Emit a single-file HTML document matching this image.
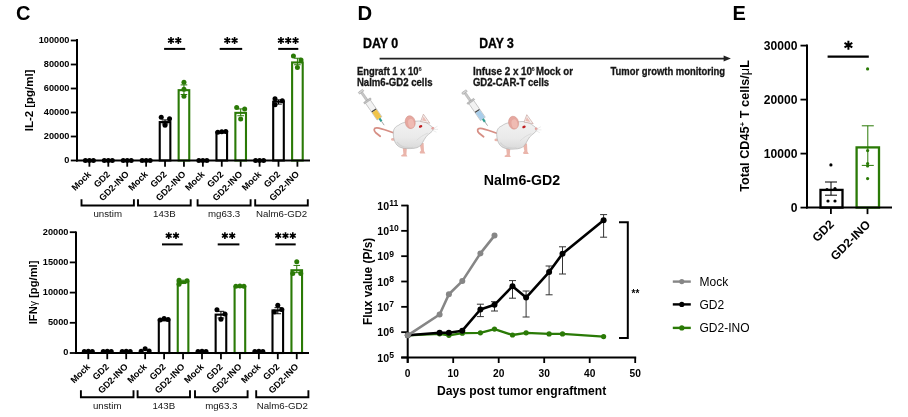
<!DOCTYPE html>
<html><head><meta charset="utf-8"><style>
html,body{margin:0;padding:0;background:#fff;}
body{width:908px;height:417px;overflow:hidden;position:relative;}
svg{position:absolute;left:0;top:0;font-family:"Liberation Sans", sans-serif;will-change:transform;filter:blur(0.35px);}
</style></head><body>
<svg width="908" height="417" viewBox="0 0 908 417">
<text x="16.00" y="20.20" font-size="20" font-weight="bold" text-anchor="start" fill="#000" >C</text>
<text x="357.40" y="19.90" font-size="20.3" font-weight="bold" text-anchor="start" fill="#000" >D</text>
<text x="732.60" y="19.90" font-size="20" font-weight="bold" text-anchor="start" fill="#000" >E</text>
<g>
<line x1="77.00" y1="39.00" x2="77.00" y2="161.50" stroke="#000" stroke-width="2" />
<line x1="70.80" y1="160.50" x2="77.00" y2="160.50" stroke="#000" stroke-width="1.8" />
<text x="69.40" y="162.90" font-size="9.2" font-weight="bold" text-anchor="end" fill="#000" >0</text>
<line x1="70.80" y1="136.50" x2="77.00" y2="136.50" stroke="#000" stroke-width="1.8" />
<text x="69.40" y="138.90" font-size="9.2" font-weight="bold" text-anchor="end" fill="#000" >20000</text>
<line x1="70.80" y1="112.50" x2="77.00" y2="112.50" stroke="#000" stroke-width="1.8" />
<text x="69.40" y="114.90" font-size="9.2" font-weight="bold" text-anchor="end" fill="#000" >40000</text>
<line x1="70.80" y1="88.50" x2="77.00" y2="88.50" stroke="#000" stroke-width="1.8" />
<text x="69.40" y="90.90" font-size="9.2" font-weight="bold" text-anchor="end" fill="#000" >60000</text>
<line x1="70.80" y1="64.50" x2="77.00" y2="64.50" stroke="#000" stroke-width="1.8" />
<text x="69.40" y="66.90" font-size="9.2" font-weight="bold" text-anchor="end" fill="#000" >80000</text>
<line x1="70.80" y1="40.50" x2="77.00" y2="40.50" stroke="#000" stroke-width="1.8" />
<text x="69.40" y="42.90" font-size="9.2" font-weight="bold" text-anchor="end" fill="#000" >100000</text>
<line x1="89.40" y1="160.50" x2="89.40" y2="166.70" stroke="#000" stroke-width="1.8" />
<text x="91.70" y="174.80" font-size="9.1" font-weight="bold" text-anchor="end" fill="#000" transform="rotate(-45 91.70 174.80)">Mock</text>
<line x1="108.31" y1="160.50" x2="108.31" y2="166.70" stroke="#000" stroke-width="1.8" />
<text x="110.61" y="174.80" font-size="9.1" font-weight="bold" text-anchor="end" fill="#000" transform="rotate(-45 110.61 174.80)">GD2</text>
<line x1="127.22" y1="160.50" x2="127.22" y2="166.70" stroke="#000" stroke-width="1.8" />
<text x="129.52" y="174.80" font-size="9.1" font-weight="bold" text-anchor="end" fill="#000" transform="rotate(-45 129.52 174.80)">GD2-INO</text>
<line x1="146.13" y1="160.50" x2="146.13" y2="166.70" stroke="#000" stroke-width="1.8" />
<text x="148.43" y="174.80" font-size="9.1" font-weight="bold" text-anchor="end" fill="#000" transform="rotate(-45 148.43 174.80)">Mock</text>
<line x1="165.04" y1="160.50" x2="165.04" y2="166.70" stroke="#000" stroke-width="1.8" />
<text x="167.34" y="174.80" font-size="9.1" font-weight="bold" text-anchor="end" fill="#000" transform="rotate(-45 167.34 174.80)">GD2</text>
<line x1="183.95" y1="160.50" x2="183.95" y2="166.70" stroke="#000" stroke-width="1.8" />
<text x="186.25" y="174.80" font-size="9.1" font-weight="bold" text-anchor="end" fill="#000" transform="rotate(-45 186.25 174.80)">GD2-INO</text>
<line x1="202.86" y1="160.50" x2="202.86" y2="166.70" stroke="#000" stroke-width="1.8" />
<text x="205.16" y="174.80" font-size="9.1" font-weight="bold" text-anchor="end" fill="#000" transform="rotate(-45 205.16 174.80)">Mock</text>
<line x1="221.77" y1="160.50" x2="221.77" y2="166.70" stroke="#000" stroke-width="1.8" />
<text x="224.07" y="174.80" font-size="9.1" font-weight="bold" text-anchor="end" fill="#000" transform="rotate(-45 224.07 174.80)">GD2</text>
<line x1="240.68" y1="160.50" x2="240.68" y2="166.70" stroke="#000" stroke-width="1.8" />
<text x="242.98" y="174.80" font-size="9.1" font-weight="bold" text-anchor="end" fill="#000" transform="rotate(-45 242.98 174.80)">GD2-INO</text>
<line x1="259.59" y1="160.50" x2="259.59" y2="166.70" stroke="#000" stroke-width="1.8" />
<text x="261.89" y="174.80" font-size="9.1" font-weight="bold" text-anchor="end" fill="#000" transform="rotate(-45 261.89 174.80)">Mock</text>
<line x1="278.50" y1="160.50" x2="278.50" y2="166.70" stroke="#000" stroke-width="1.8" />
<text x="280.80" y="174.80" font-size="9.1" font-weight="bold" text-anchor="end" fill="#000" transform="rotate(-45 280.80 174.80)">GD2</text>
<line x1="297.41" y1="160.50" x2="297.41" y2="166.70" stroke="#000" stroke-width="1.8" />
<text x="299.71" y="174.80" font-size="9.1" font-weight="bold" text-anchor="end" fill="#000" transform="rotate(-45 299.71 174.80)">GD2-INO</text>
<path d="M81.50 199.3 V205.5 H133.90 V199.3" fill="none" stroke="#000" stroke-width="1.9"/>
<text x="107.70" y="217.00" font-size="9.7" font-weight="normal" text-anchor="middle" fill="#151515" >unstim</text>
<path d="M138.00 199.3 V205.5 H190.70 V199.3" fill="none" stroke="#000" stroke-width="1.9"/>
<text x="164.35" y="217.00" font-size="9.7" font-weight="normal" text-anchor="middle" fill="#151515" >143B</text>
<path d="M197.60 199.3 V205.5 H250.60 V199.3" fill="none" stroke="#000" stroke-width="1.9"/>
<text x="224.10" y="217.00" font-size="9.7" font-weight="normal" text-anchor="middle" fill="#151515" >mg63.3</text>
<path d="M255.20 199.3 V205.5 H307.80 V199.3" fill="none" stroke="#000" stroke-width="1.9"/>
<text x="281.50" y="217.00" font-size="9.7" font-weight="normal" text-anchor="middle" fill="#151515" >Nalm6-GD2</text>
<circle cx="85.40" cy="160.50" r="2.5" fill="#000"/>
<circle cx="89.40" cy="160.50" r="2.5" fill="#000"/>
<circle cx="93.40" cy="160.50" r="2.5" fill="#000"/>
<rect x="103.01" y="160.50" width="10.6" height="0.00" fill="#fff" stroke="#000" stroke-width="2.1"/>
<circle cx="104.31" cy="160.50" r="2.5" fill="#000"/>
<circle cx="108.31" cy="160.50" r="2.5" fill="#000"/>
<circle cx="112.31" cy="160.50" r="2.5" fill="#000"/>
<rect x="121.92" y="160.50" width="10.6" height="0.00" fill="#fff" stroke="#000" stroke-width="2.1"/>
<circle cx="123.22" cy="160.50" r="2.5" fill="#000"/>
<circle cx="127.22" cy="160.50" r="2.5" fill="#000"/>
<circle cx="131.22" cy="160.50" r="2.5" fill="#000"/>
<circle cx="142.13" cy="160.50" r="2.5" fill="#000"/>
<circle cx="146.13" cy="160.50" r="2.5" fill="#000"/>
<circle cx="150.13" cy="160.50" r="2.5" fill="#000"/>
<rect x="159.74" y="122.10" width="10.6" height="38.40" fill="#fff" stroke="#000" stroke-width="2.1"/>
<path d="M165.04 123.90 V119.94 M161.74 123.90 h6.6 M161.74 119.94 h6.6" stroke="#000" stroke-width="1" fill="none"/>
<circle cx="161.24" cy="117.30" r="2.5" fill="#000"/>
<circle cx="169.54" cy="118.86" r="2.5" fill="#000"/>
<circle cx="165.04" cy="125.22" r="2.5" fill="#000"/>
<rect x="178.65" y="90.18" width="10.6" height="70.32" fill="#fff" stroke="#2a7a06" stroke-width="2.1"/>
<path d="M183.95 94.50 V84.90 M180.65 94.50 h6.6 M180.65 84.90 h6.6" stroke="#2a7a06" stroke-width="1" fill="none"/>
<circle cx="183.95" cy="82.14" r="2.5" fill="#2a7a06"/>
<circle cx="183.95" cy="89.34" r="2.5" fill="#2a7a06"/>
<circle cx="183.95" cy="96.18" r="2.5" fill="#2a7a06"/>
<circle cx="198.86" cy="160.50" r="2.5" fill="#000"/>
<circle cx="202.86" cy="160.50" r="2.5" fill="#000"/>
<circle cx="206.86" cy="160.50" r="2.5" fill="#000"/>
<rect x="216.47" y="132.30" width="10.6" height="28.20" fill="#fff" stroke="#000" stroke-width="2.1"/>
<circle cx="217.77" cy="132.18" r="2.5" fill="#000"/>
<circle cx="221.77" cy="131.70" r="2.5" fill="#000"/>
<circle cx="225.77" cy="131.46" r="2.5" fill="#000"/>
<rect x="235.38" y="112.86" width="10.6" height="47.64" fill="#fff" stroke="#2a7a06" stroke-width="2.1"/>
<path d="M240.68 115.74 V108.90 M237.38 115.74 h6.6 M237.38 108.90 h6.6" stroke="#2a7a06" stroke-width="1" fill="none"/>
<circle cx="236.68" cy="107.46" r="2.5" fill="#2a7a06"/>
<circle cx="244.68" cy="108.90" r="2.5" fill="#2a7a06"/>
<circle cx="240.68" cy="118.98" r="2.5" fill="#2a7a06"/>
<circle cx="255.59" cy="160.50" r="2.5" fill="#000"/>
<circle cx="259.59" cy="160.50" r="2.5" fill="#000"/>
<circle cx="263.59" cy="160.50" r="2.5" fill="#000"/>
<rect x="273.20" y="101.70" width="10.6" height="58.80" fill="#fff" stroke="#000" stroke-width="2.1"/>
<path d="M278.50 104.10 V99.90 M275.20 104.10 h6.6 M275.20 99.90 h6.6" stroke="#000" stroke-width="1" fill="none"/>
<circle cx="275.00" cy="98.70" r="2.5" fill="#000"/>
<circle cx="282.30" cy="100.86" r="2.5" fill="#000"/>
<circle cx="275.00" cy="104.70" r="2.5" fill="#000"/>
<rect x="292.11" y="62.46" width="10.6" height="98.04" fill="#fff" stroke="#2a7a06" stroke-width="2.1"/>
<path d="M297.41 64.74 V58.26 M294.11 64.74 h6.6 M294.11 58.26 h6.6" stroke="#2a7a06" stroke-width="1" fill="none"/>
<circle cx="293.41" cy="56.10" r="2.5" fill="#2a7a06"/>
<circle cx="301.01" cy="60.06" r="2.5" fill="#2a7a06"/>
<circle cx="297.41" cy="67.62" r="2.5" fill="#2a7a06"/>
<line x1="76.00" y1="160.50" x2="310.00" y2="160.50" stroke="#000" stroke-width="2" />
<line x1="164.10" y1="48.90" x2="185.20" y2="48.90" stroke="#000" stroke-width="2" />
<path d="M171.00 37.10 L171.00 43.90 M168.06 38.80 L173.94 42.20 M173.94 38.80 L168.06 42.20 " stroke="#000" stroke-width="1.6" fill="none"/>
<path d="M178.30 37.10 L178.30 43.90 M175.36 38.80 L181.24 42.20 M181.24 38.80 L175.36 42.20 " stroke="#000" stroke-width="1.6" fill="none"/>
<line x1="219.70" y1="48.90" x2="242.20" y2="48.90" stroke="#000" stroke-width="2" />
<path d="M227.30 37.10 L227.30 43.90 M224.36 38.80 L230.24 42.20 M230.24 38.80 L224.36 42.20 " stroke="#000" stroke-width="1.6" fill="none"/>
<path d="M234.60 37.10 L234.60 43.90 M231.66 38.80 L237.54 42.20 M237.54 38.80 L231.66 42.20 " stroke="#000" stroke-width="1.6" fill="none"/>
<line x1="278.20" y1="48.90" x2="298.30" y2="48.90" stroke="#000" stroke-width="2" />
<path d="M280.95 37.10 L280.95 43.90 M278.01 38.80 L283.89 42.20 M283.89 38.80 L278.01 42.20 " stroke="#000" stroke-width="1.6" fill="none"/>
<path d="M288.25 37.10 L288.25 43.90 M285.31 38.80 L291.19 42.20 M291.19 38.80 L285.31 42.20 " stroke="#000" stroke-width="1.6" fill="none"/>
<path d="M295.55 37.10 L295.55 43.90 M292.61 38.80 L298.49 42.20 M298.49 38.80 L292.61 42.20 " stroke="#000" stroke-width="1.6" fill="none"/>
<text x="32.7" y="100.4" font-size="11.45" font-weight="bold" text-anchor="middle" transform="rotate(-90 32.7 100.4)">IL-2 [pg/ml]</text>
<line x1="76.00" y1="231.60" x2="76.00" y2="354.00" stroke="#000" stroke-width="2" />
<line x1="69.80" y1="353.00" x2="76.00" y2="353.00" stroke="#000" stroke-width="1.8" />
<text x="68.40" y="355.40" font-size="9.2" font-weight="bold" text-anchor="end" fill="#000" >0</text>
<line x1="69.80" y1="322.80" x2="76.00" y2="322.80" stroke="#000" stroke-width="1.8" />
<text x="68.40" y="325.20" font-size="9.2" font-weight="bold" text-anchor="end" fill="#000" >5000</text>
<line x1="69.80" y1="292.60" x2="76.00" y2="292.60" stroke="#000" stroke-width="1.8" />
<text x="68.40" y="295.00" font-size="9.2" font-weight="bold" text-anchor="end" fill="#000" >10000</text>
<line x1="69.80" y1="262.40" x2="76.00" y2="262.40" stroke="#000" stroke-width="1.8" />
<text x="68.40" y="264.80" font-size="9.2" font-weight="bold" text-anchor="end" fill="#000" >15000</text>
<line x1="69.80" y1="232.20" x2="76.00" y2="232.20" stroke="#000" stroke-width="1.8" />
<text x="68.40" y="234.60" font-size="9.2" font-weight="bold" text-anchor="end" fill="#000" >20000</text>
<line x1="88.30" y1="353.00" x2="88.30" y2="359.20" stroke="#000" stroke-width="1.8" />
<text x="90.60" y="367.30" font-size="9.1" font-weight="bold" text-anchor="end" fill="#000" transform="rotate(-45 90.60 367.30)">Mock</text>
<line x1="107.25" y1="353.00" x2="107.25" y2="359.20" stroke="#000" stroke-width="1.8" />
<text x="109.55" y="367.30" font-size="9.1" font-weight="bold" text-anchor="end" fill="#000" transform="rotate(-45 109.55 367.30)">GD2</text>
<line x1="126.20" y1="353.00" x2="126.20" y2="359.20" stroke="#000" stroke-width="1.8" />
<text x="128.50" y="367.30" font-size="9.1" font-weight="bold" text-anchor="end" fill="#000" transform="rotate(-45 128.50 367.30)">GD2-INO</text>
<line x1="145.15" y1="353.00" x2="145.15" y2="359.20" stroke="#000" stroke-width="1.8" />
<text x="147.45" y="367.30" font-size="9.1" font-weight="bold" text-anchor="end" fill="#000" transform="rotate(-45 147.45 367.30)">Mock</text>
<line x1="164.10" y1="353.00" x2="164.10" y2="359.20" stroke="#000" stroke-width="1.8" />
<text x="166.40" y="367.30" font-size="9.1" font-weight="bold" text-anchor="end" fill="#000" transform="rotate(-45 166.40 367.30)">GD2</text>
<line x1="183.05" y1="353.00" x2="183.05" y2="359.20" stroke="#000" stroke-width="1.8" />
<text x="185.35" y="367.30" font-size="9.1" font-weight="bold" text-anchor="end" fill="#000" transform="rotate(-45 185.35 367.30)">GD2-INO</text>
<line x1="202.00" y1="353.00" x2="202.00" y2="359.20" stroke="#000" stroke-width="1.8" />
<text x="204.30" y="367.30" font-size="9.1" font-weight="bold" text-anchor="end" fill="#000" transform="rotate(-45 204.30 367.30)">Mock</text>
<line x1="220.95" y1="353.00" x2="220.95" y2="359.20" stroke="#000" stroke-width="1.8" />
<text x="223.25" y="367.30" font-size="9.1" font-weight="bold" text-anchor="end" fill="#000" transform="rotate(-45 223.25 367.30)">GD2</text>
<line x1="239.90" y1="353.00" x2="239.90" y2="359.20" stroke="#000" stroke-width="1.8" />
<text x="242.20" y="367.30" font-size="9.1" font-weight="bold" text-anchor="end" fill="#000" transform="rotate(-45 242.20 367.30)">GD2-INO</text>
<line x1="258.85" y1="353.00" x2="258.85" y2="359.20" stroke="#000" stroke-width="1.8" />
<text x="261.15" y="367.30" font-size="9.1" font-weight="bold" text-anchor="end" fill="#000" transform="rotate(-45 261.15 367.30)">Mock</text>
<line x1="277.80" y1="353.00" x2="277.80" y2="359.20" stroke="#000" stroke-width="1.8" />
<text x="280.10" y="367.30" font-size="9.1" font-weight="bold" text-anchor="end" fill="#000" transform="rotate(-45 280.10 367.30)">GD2</text>
<line x1="296.75" y1="353.00" x2="296.75" y2="359.20" stroke="#000" stroke-width="1.8" />
<text x="299.05" y="367.30" font-size="9.1" font-weight="bold" text-anchor="end" fill="#000" transform="rotate(-45 299.05 367.30)">GD2-INO</text>
<path d="M80.90 390.3 V397.2 H133.50 V390.3" fill="none" stroke="#000" stroke-width="1.9"/>
<text x="107.20" y="409.00" font-size="9.7" font-weight="normal" text-anchor="middle" fill="#151515" >unstim</text>
<path d="M137.60 390.3 V397.2 H190.00 V390.3" fill="none" stroke="#000" stroke-width="1.9"/>
<text x="163.80" y="409.00" font-size="9.7" font-weight="normal" text-anchor="middle" fill="#151515" >143B</text>
<path d="M195.00 390.3 V397.2 H247.60 V390.3" fill="none" stroke="#000" stroke-width="1.9"/>
<text x="221.30" y="409.00" font-size="9.7" font-weight="normal" text-anchor="middle" fill="#151515" >mg63.3</text>
<path d="M256.20 390.3 V397.2 H308.40 V390.3" fill="none" stroke="#000" stroke-width="1.9"/>
<text x="282.30" y="409.00" font-size="9.7" font-weight="normal" text-anchor="middle" fill="#151515" >Nalm6-GD2</text>
<circle cx="84.30" cy="351.49" r="2.5" fill="#000"/>
<circle cx="88.30" cy="351.19" r="2.5" fill="#000"/>
<circle cx="92.30" cy="351.49" r="2.5" fill="#000"/>
<rect x="101.95" y="353.00" width="10.6" height="0.00" fill="#fff" stroke="#000" stroke-width="2.1"/>
<circle cx="103.25" cy="351.49" r="2.5" fill="#000"/>
<circle cx="107.25" cy="351.19" r="2.5" fill="#000"/>
<circle cx="111.25" cy="351.49" r="2.5" fill="#000"/>
<rect x="120.90" y="353.00" width="10.6" height="0.00" fill="#fff" stroke="#000" stroke-width="2.1"/>
<circle cx="122.20" cy="351.49" r="2.5" fill="#000"/>
<circle cx="126.20" cy="351.19" r="2.5" fill="#000"/>
<circle cx="130.20" cy="351.49" r="2.5" fill="#000"/>
<circle cx="141.15" cy="351.19" r="2.5" fill="#000"/>
<circle cx="145.15" cy="348.77" r="2.5" fill="#000"/>
<circle cx="149.15" cy="350.89" r="2.5" fill="#000"/>
<rect x="158.80" y="320.38" width="10.6" height="32.62" fill="#fff" stroke="#000" stroke-width="2.1"/>
<circle cx="160.10" cy="320.08" r="2.5" fill="#000"/>
<circle cx="164.10" cy="318.57" r="2.5" fill="#000"/>
<circle cx="168.10" cy="319.48" r="2.5" fill="#000"/>
<rect x="177.75" y="282.03" width="10.6" height="70.97" fill="#fff" stroke="#2a7a06" stroke-width="2.1"/>
<path d="M183.05 283.54 V280.22 M179.75 283.54 h6.6 M179.75 280.22 h6.6" stroke="#2a7a06" stroke-width="1" fill="none"/>
<circle cx="179.05" cy="280.22" r="2.5" fill="#2a7a06"/>
<circle cx="179.05" cy="284.14" r="2.5" fill="#2a7a06"/>
<circle cx="187.05" cy="280.82" r="2.5" fill="#2a7a06"/>
<circle cx="198.00" cy="351.49" r="2.5" fill="#000"/>
<circle cx="202.00" cy="351.19" r="2.5" fill="#000"/>
<circle cx="206.00" cy="351.49" r="2.5" fill="#000"/>
<rect x="215.65" y="314.65" width="10.6" height="38.35" fill="#fff" stroke="#000" stroke-width="2.1"/>
<path d="M220.95 317.97 V311.32 M217.65 317.97 h6.6 M217.65 311.32 h6.6" stroke="#000" stroke-width="1" fill="none"/>
<circle cx="216.95" cy="309.81" r="2.5" fill="#000"/>
<circle cx="224.95" cy="314.04" r="2.5" fill="#000"/>
<circle cx="220.95" cy="319.18" r="2.5" fill="#000"/>
<rect x="234.60" y="286.86" width="10.6" height="66.14" fill="#fff" stroke="#2a7a06" stroke-width="2.1"/>
<circle cx="235.90" cy="286.26" r="2.5" fill="#2a7a06"/>
<circle cx="239.90" cy="285.96" r="2.5" fill="#2a7a06"/>
<circle cx="243.90" cy="286.26" r="2.5" fill="#2a7a06"/>
<circle cx="254.85" cy="351.49" r="2.5" fill="#000"/>
<circle cx="258.85" cy="351.19" r="2.5" fill="#000"/>
<circle cx="262.85" cy="351.49" r="2.5" fill="#000"/>
<rect x="272.50" y="310.42" width="10.6" height="42.58" fill="#fff" stroke="#000" stroke-width="2.1"/>
<path d="M277.80 313.74 V307.70 M274.50 313.74 h6.6 M274.50 307.70 h6.6" stroke="#000" stroke-width="1" fill="none"/>
<circle cx="277.80" cy="305.28" r="2.5" fill="#000"/>
<circle cx="274.30" cy="311.93" r="2.5" fill="#000"/>
<circle cx="281.80" cy="309.51" r="2.5" fill="#000"/>
<rect x="291.45" y="270.25" width="10.6" height="82.75" fill="#fff" stroke="#2a7a06" stroke-width="2.1"/>
<path d="M296.75 272.67 V265.42 M293.45 272.67 h6.6 M293.45 265.42 h6.6" stroke="#2a7a06" stroke-width="1" fill="none"/>
<circle cx="296.75" cy="261.80" r="2.5" fill="#2a7a06"/>
<circle cx="292.75" cy="273.57" r="2.5" fill="#2a7a06"/>
<circle cx="300.75" cy="273.57" r="2.5" fill="#2a7a06"/>
<line x1="75.00" y1="353.00" x2="309.00" y2="353.00" stroke="#000" stroke-width="2" />
<line x1="162.00" y1="244.40" x2="182.70" y2="244.40" stroke="#000" stroke-width="2" />
<path d="M168.70 232.30 L168.70 239.10 M165.76 234.00 L171.64 237.40 M171.64 234.00 L165.76 237.40 " stroke="#000" stroke-width="1.6" fill="none"/>
<path d="M176.00 232.30 L176.00 239.10 M173.06 234.00 L178.94 237.40 M178.94 234.00 L173.06 237.40 " stroke="#000" stroke-width="1.6" fill="none"/>
<line x1="217.70" y1="244.40" x2="239.40" y2="244.40" stroke="#000" stroke-width="2" />
<path d="M224.90 232.30 L224.90 239.10 M221.96 234.00 L227.84 237.40 M227.84 234.00 L221.96 237.40 " stroke="#000" stroke-width="1.6" fill="none"/>
<path d="M232.20 232.30 L232.20 239.10 M229.26 234.00 L235.14 237.40 M235.14 234.00 L229.26 237.40 " stroke="#000" stroke-width="1.6" fill="none"/>
<line x1="275.30" y1="244.40" x2="295.70" y2="244.40" stroke="#000" stroke-width="2" />
<path d="M278.20 232.30 L278.20 239.10 M275.26 234.00 L281.14 237.40 M281.14 234.00 L275.26 237.40 " stroke="#000" stroke-width="1.6" fill="none"/>
<path d="M285.50 232.30 L285.50 239.10 M282.56 234.00 L288.44 237.40 M288.44 234.00 L282.56 237.40 " stroke="#000" stroke-width="1.6" fill="none"/>
<path d="M292.80 232.30 L292.80 239.10 M289.86 234.00 L295.74 237.40 M295.74 234.00 L289.86 237.40 " stroke="#000" stroke-width="1.6" fill="none"/>
<text x="37.4" y="292.4" font-size="11.2" font-weight="bold" text-anchor="middle" transform="rotate(-90 37.4 292.4)">IFN<tspan font-weight="normal" font-size="10.5">γ</tspan> [pg/ml]</text>
</g>
<text x="363.00" y="47.60" font-size="14" font-weight="bold" text-anchor="start" fill="#000" textLength="35.2" lengthAdjust="spacingAndGlyphs" stroke="#000" stroke-width="0.35">DAY 0</text>
<text x="479.20" y="47.60" font-size="14" font-weight="bold" text-anchor="start" fill="#000" textLength="34.6" lengthAdjust="spacingAndGlyphs" stroke="#000" stroke-width="0.35">DAY 3</text>
<line x1="379.60" y1="58.60" x2="724.00" y2="58.60" stroke="#222" stroke-width="1.6" />
<path d="M723.6 55.6 L730.9 58.6 L723.6 61.6 Z" fill="#222"/>
<text x="356.90" y="74.70" font-size="10.5" font-weight="bold" text-anchor="start" fill="#151515" textLength="61.6" lengthAdjust="spacingAndGlyphs" stroke="#151515" stroke-width="0.3">Engraft 1 x 10</text>
<text x="418.50" y="71.30" font-size="5.8" font-weight="bold" text-anchor="start" fill="#151515" >6</text>
<text x="356.90" y="85.70" font-size="10.5" font-weight="bold" text-anchor="start" fill="#151515" textLength="75.6" lengthAdjust="spacingAndGlyphs" stroke="#151515" stroke-width="0.3">Nalm6-GD2 cells</text>
<text x="472.90" y="74.70" font-size="10.5" font-weight="bold" text-anchor="start" fill="#151515" textLength="59.2" lengthAdjust="spacingAndGlyphs" stroke="#151515" stroke-width="0.3">Infuse 2 x 10</text>
<text x="531.60" y="71.30" font-size="5.8" font-weight="bold" text-anchor="start" fill="#151515" >6</text>
<text x="535.90" y="74.70" font-size="10.5" font-weight="bold" text-anchor="start" fill="#151515" textLength="37.0" lengthAdjust="spacingAndGlyphs" stroke="#151515" stroke-width="0.3">Mock or</text>
<text x="472.90" y="85.70" font-size="10.5" font-weight="bold" text-anchor="start" fill="#151515" textLength="76.2" lengthAdjust="spacingAndGlyphs" stroke="#151515" stroke-width="0.3">GD2-CAR-T cells</text>
<text x="610.50" y="74.70" font-size="10.5" font-weight="bold" text-anchor="start" fill="#151515" textLength="114.6" lengthAdjust="spacingAndGlyphs" stroke="#151515" stroke-width="0.3">Tumor growth monitoring</text>
<defs><linearGradient id="mbody" x1="0" y1="0" x2="0" y2="1"><stop offset="0" stop-color="#f2f2f2"/><stop offset="0.6" stop-color="#eaeaea"/><stop offset="1" stop-color="#dadada"/></linearGradient></defs>
<g transform="translate(0,0)">
<path d="M394.5 133 C388 131 382 128.3 377 127.8 C373.6 127.6 373.4 130.6 375.8 132.8 L380.2 136.2" fill="none" stroke="#d68e84" stroke-width="1.75" stroke-linecap="round"/>
<g transform="translate(361 91.6) rotate(-34.6)"><rect x="-2.8" y="-1" width="5.6" height="2.2" rx="0.9" fill="#d4d4d4" stroke="#9a9a9a" stroke-width="0.5"/><rect x="-1.1" y="1.2" width="2.2" height="9.6" fill="#c8c8c8" stroke="#9a9a9a" stroke-width="0.4"/><rect x="-4.2" y="10.4" width="8.4" height="1.8" rx="0.6" fill="#c2c2c2" stroke="#8f8f8f" stroke-width="0.4"/><rect x="-2.9" y="12.2" width="5.8" height="20.3" fill="#f2f2f2" stroke="#a5a5a5" stroke-width="0.55"/><rect x="-2.6" y="22.2" width="5.2" height="1.3" fill="#444"/><rect x="-2.6" y="23.5" width="5.2" height="8.8" fill="#f0c44a"/><rect x="-1.1" y="32.5" width="2.2" height="3.6" fill="#2f9e92"/><line x1="0" y1="36" x2="0" y2="40.8" stroke="#8a8a8a" stroke-width="0.7"/></g>
<ellipse cx="393.2" cy="139.4" rx="2.2" ry="1.3" fill="#eab5ab"/>
<path d="M402.6 146 L403.4 154 L401 155.4 L401.6 156.6 L407.4 156.6 L406.4 154.6 L407 146 Z" fill="#eab5ab"/>
<path d="M419.4 143 L421 150.6 L419.6 152.2 L420.2 153.4 L425.4 153.4 L424 151 L423.6 143 Z" fill="#eab5ab"/>
<path d="M393.3 134 C393 129 395.5 126.5 398.5 125.3 C401 123.3 404 122.3 407 122 L416 121.2 C419.5 120.8 423 121 426 122.6 C429 124.3 431.5 126.3 433.4 128 C433.2 129.8 432.4 131.2 431.2 132.2 C429.5 133.6 427.5 135 426.2 136.5 C424.8 138.5 423.8 140.5 422.6 142.6 C421 145.8 418.5 147.8 414 148.3 C409 148.8 403.5 149 399.6 147 C395.5 145 393.5 140 393.3 134 Z" fill="url(#mbody)" stroke="#a9a9a9" stroke-width="0.6"/>
<path d="M397 142 C400 146.5 407 148 413 147.4" fill="none" stroke="#d2d2d2" stroke-width="1.3"/>
<path d="M416.5 140.5 C419.5 137.5 423.5 134.8 428 133" fill="none" stroke="#dadada" stroke-width="0.9"/>
<path d="M420.6 121.6 L423.4 114.2 L429.8 123.2 Z" fill="#f4f4f4" stroke="#c9a39d" stroke-width="0.7"/>
<path d="M422 120.6 L423.5 116.4 L427 121.6 Z" fill="#ecbdb5"/>
<ellipse cx="410.2" cy="122.2" rx="5" ry="6.5" fill="#e6a79f" stroke="#d3958c" stroke-width="0.5" transform="rotate(-12 410.2 122.2)"/>
<ellipse cx="411.1" cy="123.3" rx="2.9" ry="4.5" fill="#efbbb3" transform="rotate(-12 411.1 123.3)"/>
<ellipse cx="420.6" cy="126.4" rx="1.8" ry="1.2" fill="#bf1d20" transform="rotate(-25 420.6 126.4)"/>
<circle cx="432.8" cy="128.3" r="1.4" fill="#e69c98"/>
<path d="M432.5 129 L437.5 126.2 M432.5 129.3 L438 129.4 M432 130 L436.5 132.2" stroke="#cfcfcf" stroke-width="0.4"/>
</g>
<g transform="translate(103.4,0.5)">
<path d="M394.5 133 C388 131 382 128.3 377 127.8 C373.6 127.6 373.4 130.6 375.8 132.8 L380.2 136.2" fill="none" stroke="#d68e84" stroke-width="1.75" stroke-linecap="round"/>
<g transform="translate(361 91.6) rotate(-34.6)"><rect x="-2.8" y="-1" width="5.6" height="2.2" rx="0.9" fill="#d4d4d4" stroke="#9a9a9a" stroke-width="0.5"/><rect x="-1.1" y="1.2" width="2.2" height="9.6" fill="#c8c8c8" stroke="#9a9a9a" stroke-width="0.4"/><rect x="-4.2" y="10.4" width="8.4" height="1.8" rx="0.6" fill="#c2c2c2" stroke="#8f8f8f" stroke-width="0.4"/><rect x="-2.9" y="12.2" width="5.8" height="20.3" fill="#f2f2f2" stroke="#a5a5a5" stroke-width="0.55"/><rect x="-2.6" y="22.2" width="5.2" height="1.3" fill="#444"/><rect x="-2.6" y="23.5" width="5.2" height="8.8" fill="#a9cde9"/><rect x="-1.1" y="32.5" width="2.2" height="3.6" fill="#2f9e92"/><line x1="0" y1="36" x2="0" y2="40.8" stroke="#8a8a8a" stroke-width="0.7"/></g>
<ellipse cx="393.2" cy="139.4" rx="2.2" ry="1.3" fill="#eab5ab"/>
<path d="M402.6 146 L403.4 154 L401 155.4 L401.6 156.6 L407.4 156.6 L406.4 154.6 L407 146 Z" fill="#eab5ab"/>
<path d="M419.4 143 L421 150.6 L419.6 152.2 L420.2 153.4 L425.4 153.4 L424 151 L423.6 143 Z" fill="#eab5ab"/>
<path d="M393.3 134 C393 129 395.5 126.5 398.5 125.3 C401 123.3 404 122.3 407 122 L416 121.2 C419.5 120.8 423 121 426 122.6 C429 124.3 431.5 126.3 433.4 128 C433.2 129.8 432.4 131.2 431.2 132.2 C429.5 133.6 427.5 135 426.2 136.5 C424.8 138.5 423.8 140.5 422.6 142.6 C421 145.8 418.5 147.8 414 148.3 C409 148.8 403.5 149 399.6 147 C395.5 145 393.5 140 393.3 134 Z" fill="url(#mbody)" stroke="#a9a9a9" stroke-width="0.6"/>
<path d="M397 142 C400 146.5 407 148 413 147.4" fill="none" stroke="#d2d2d2" stroke-width="1.3"/>
<path d="M416.5 140.5 C419.5 137.5 423.5 134.8 428 133" fill="none" stroke="#dadada" stroke-width="0.9"/>
<path d="M420.6 121.6 L423.4 114.2 L429.8 123.2 Z" fill="#f4f4f4" stroke="#c9a39d" stroke-width="0.7"/>
<path d="M422 120.6 L423.5 116.4 L427 121.6 Z" fill="#ecbdb5"/>
<ellipse cx="410.2" cy="122.2" rx="5" ry="6.5" fill="#e6a79f" stroke="#d3958c" stroke-width="0.5" transform="rotate(-12 410.2 122.2)"/>
<ellipse cx="411.1" cy="123.3" rx="2.9" ry="4.5" fill="#efbbb3" transform="rotate(-12 411.1 123.3)"/>
<ellipse cx="420.6" cy="126.4" rx="1.8" ry="1.2" fill="#bf1d20" transform="rotate(-25 420.6 126.4)"/>
<circle cx="432.8" cy="128.3" r="1.4" fill="#e69c98"/>
<path d="M432.5 129 L437.5 126.2 M432.5 129.3 L438 129.4 M432 130 L436.5 132.2" stroke="#cfcfcf" stroke-width="0.4"/>
</g>
<line x1="407.70" y1="204.80" x2="407.70" y2="362.80" stroke="#000" stroke-width="2" />
<line x1="401.20" y1="357.50" x2="407.70" y2="357.50" stroke="#000" stroke-width="1.8" />
<text x="389.10" y="361.80" font-size="10.6" font-weight="bold" text-anchor="end" fill="#000" >10</text>
<text x="389.30" y="357.90" font-size="8.6" font-weight="bold" text-anchor="start" fill="#000" >5</text>
<line x1="401.20" y1="332.17" x2="407.70" y2="332.17" stroke="#000" stroke-width="1.8" />
<text x="389.10" y="336.47" font-size="10.6" font-weight="bold" text-anchor="end" fill="#000" >10</text>
<text x="389.30" y="332.57" font-size="8.6" font-weight="bold" text-anchor="start" fill="#000" >6</text>
<line x1="401.20" y1="306.84" x2="407.70" y2="306.84" stroke="#000" stroke-width="1.8" />
<text x="389.10" y="311.14" font-size="10.6" font-weight="bold" text-anchor="end" fill="#000" >10</text>
<text x="389.30" y="307.24" font-size="8.6" font-weight="bold" text-anchor="start" fill="#000" >7</text>
<line x1="401.20" y1="281.51" x2="407.70" y2="281.51" stroke="#000" stroke-width="1.8" />
<text x="389.10" y="285.81" font-size="10.6" font-weight="bold" text-anchor="end" fill="#000" >10</text>
<text x="389.30" y="281.91" font-size="8.6" font-weight="bold" text-anchor="start" fill="#000" >8</text>
<line x1="401.20" y1="256.18" x2="407.70" y2="256.18" stroke="#000" stroke-width="1.8" />
<text x="389.10" y="260.48" font-size="10.6" font-weight="bold" text-anchor="end" fill="#000" >10</text>
<text x="389.30" y="256.58" font-size="8.6" font-weight="bold" text-anchor="start" fill="#000" >9</text>
<line x1="401.20" y1="230.85" x2="407.70" y2="230.85" stroke="#000" stroke-width="1.8" />
<text x="389.10" y="235.15" font-size="10.6" font-weight="bold" text-anchor="end" fill="#000" >10</text>
<text x="389.30" y="231.25" font-size="8.6" font-weight="bold" text-anchor="start" fill="#000" >10</text>
<line x1="401.20" y1="205.52" x2="407.70" y2="205.52" stroke="#000" stroke-width="1.8" />
<text x="389.10" y="209.82" font-size="10.6" font-weight="bold" text-anchor="end" fill="#000" >10</text>
<text x="389.30" y="205.92" font-size="8.6" font-weight="bold" text-anchor="start" fill="#000" >11</text>
<line x1="401.20" y1="357.50" x2="636.20" y2="357.50" stroke="#000" stroke-width="2" />
<line x1="407.70" y1="357.50" x2="407.70" y2="363.00" stroke="#000" stroke-width="1.8" />
<text x="407.70" y="376.50" font-size="10.2" font-weight="bold" text-anchor="middle" fill="#000" >0</text>
<line x1="453.20" y1="357.50" x2="453.20" y2="363.00" stroke="#000" stroke-width="1.8" />
<text x="453.20" y="376.50" font-size="10.2" font-weight="bold" text-anchor="middle" fill="#000" >10</text>
<line x1="498.70" y1="357.50" x2="498.70" y2="363.00" stroke="#000" stroke-width="1.8" />
<text x="498.70" y="376.50" font-size="10.2" font-weight="bold" text-anchor="middle" fill="#000" >20</text>
<line x1="544.20" y1="357.50" x2="544.20" y2="363.00" stroke="#000" stroke-width="1.8" />
<text x="544.20" y="376.50" font-size="10.2" font-weight="bold" text-anchor="middle" fill="#000" >30</text>
<line x1="589.70" y1="357.50" x2="589.70" y2="363.00" stroke="#000" stroke-width="1.8" />
<text x="589.70" y="376.50" font-size="10.2" font-weight="bold" text-anchor="middle" fill="#000" >40</text>
<line x1="635.20" y1="357.50" x2="635.20" y2="363.00" stroke="#000" stroke-width="1.8" />
<text x="635.20" y="376.50" font-size="10.2" font-weight="bold" text-anchor="middle" fill="#000" >50</text>
<text x="521.60" y="394.90" font-size="12.1" font-weight="bold" text-anchor="middle" fill="#000" textLength="169.2" lengthAdjust="spacingAndGlyphs" >Days post tumor engraftment</text>
<text x="372.2" y="281.4" font-size="11.9" font-weight="bold" text-anchor="middle" transform="rotate(-90 372.2 281.4)">Flux value (P/s)</text>
<text x="522.00" y="185.40" font-size="14.2" font-weight="bold" text-anchor="middle" fill="#000" textLength="76.5" lengthAdjust="spacingAndGlyphs" >Nalm6-GD2</text>
<path d="M407.8 335.3 L439.6 333.8 L448.9 335.3 L462.3 333.2 L480.4 332.8 L494.5 329.1 L512.5 335.0 L526.1 332.8 L549.1 333.9 L562.5 333.9 L603.6 336.6" fill="none" stroke="#2a7a06" stroke-width="2.3" stroke-linejoin="round"/>
<circle cx="407.80" cy="335.30" r="2.6" fill="#2a7a06"/>
<circle cx="439.60" cy="333.80" r="2.6" fill="#2a7a06"/>
<circle cx="448.90" cy="335.30" r="2.6" fill="#2a7a06"/>
<circle cx="462.30" cy="333.20" r="2.6" fill="#2a7a06"/>
<circle cx="480.40" cy="332.80" r="2.6" fill="#2a7a06"/>
<circle cx="494.50" cy="329.10" r="2.6" fill="#2a7a06"/>
<circle cx="512.50" cy="335.00" r="2.6" fill="#2a7a06"/>
<circle cx="526.10" cy="332.80" r="2.6" fill="#2a7a06"/>
<circle cx="549.10" cy="333.90" r="2.6" fill="#2a7a06"/>
<circle cx="562.50" cy="333.90" r="2.6" fill="#2a7a06"/>
<circle cx="603.60" cy="336.60" r="2.6" fill="#2a7a06"/>
<path d="M480.4 304.2 V316.6 M476.9 304.2 h7 M476.9 316.6 h7" stroke="#333" stroke-width="1" fill="none"/>
<path d="M494.5 301.7 V311 M491.0 301.7 h7 M491.0 311 h7" stroke="#333" stroke-width="1" fill="none"/>
<path d="M512.5 280.6 V298.2 M509.0 280.6 h7 M509.0 298.2 h7" stroke="#333" stroke-width="1" fill="none"/>
<path d="M526.1 291 V317 M522.6 291 h7 M522.6 317 h7" stroke="#333" stroke-width="1" fill="none"/>
<path d="M549.1 266 V294.8 M545.6 266 h7 M545.6 294.8 h7" stroke="#333" stroke-width="1" fill="none"/>
<path d="M562.5 246.8 V274 M559.0 246.8 h7 M559.0 274 h7" stroke="#333" stroke-width="1" fill="none"/>
<path d="M603.6 214.6 V237.2 M600.1 214.6 h7 M600.1 237.2 h7" stroke="#333" stroke-width="1" fill="none"/>
<path d="M407.8 335.3 L439.6 332.8 L448.9 332.8 L462.3 330.7 L480.4 309.5 L494.5 304.8 L512.5 286.2 L526.1 297.6 L549.1 272.1 L562.5 253.7 L603.6 220.3" fill="none" stroke="#000" stroke-width="2.6" stroke-linejoin="round"/>
<circle cx="407.80" cy="335.30" r="3" fill="#000"/>
<circle cx="439.60" cy="332.80" r="3" fill="#000"/>
<circle cx="448.90" cy="332.80" r="3" fill="#000"/>
<circle cx="462.30" cy="330.70" r="3" fill="#000"/>
<circle cx="480.40" cy="309.50" r="3" fill="#000"/>
<circle cx="494.50" cy="304.80" r="3" fill="#000"/>
<circle cx="512.50" cy="286.20" r="3" fill="#000"/>
<circle cx="526.10" cy="297.60" r="3" fill="#000"/>
<circle cx="549.10" cy="272.10" r="3" fill="#000"/>
<circle cx="562.50" cy="253.70" r="3" fill="#000"/>
<circle cx="603.60" cy="220.30" r="3" fill="#000"/>
<path d="M407.8 335.3 L439.6 314.5 L448.9 294.2 L462.3 281.1 L480.4 253.4 L494.5 235.6" fill="none" stroke="#868686" stroke-width="2.6" stroke-linejoin="round"/>
<circle cx="407.80" cy="335.30" r="3" fill="#868686"/>
<circle cx="439.60" cy="314.50" r="3" fill="#868686"/>
<circle cx="448.90" cy="294.20" r="3" fill="#868686"/>
<circle cx="462.30" cy="281.10" r="3" fill="#868686"/>
<circle cx="480.40" cy="253.40" r="3" fill="#868686"/>
<circle cx="494.50" cy="235.60" r="3" fill="#868686"/>
<path d="M619 222.3 H627.8 V338.1 H619" fill="none" stroke="#000" stroke-width="2"/>
<text x="631.50" y="297.40" font-size="10" font-weight="bold" text-anchor="start" fill="#000" >**</text>
<line x1="672.80" y1="281.60" x2="690.80" y2="281.60" stroke="#868686" stroke-width="2.4" />
<circle cx="681.80" cy="281.60" r="2.6" fill="#868686"/>
<text x="699.50" y="285.90" font-size="12" font-weight="normal" text-anchor="start" fill="#000" >Mock</text>
<line x1="672.80" y1="304.40" x2="690.80" y2="304.40" stroke="#000" stroke-width="2.4" />
<circle cx="681.80" cy="304.40" r="2.6" fill="#000"/>
<text x="699.50" y="308.70" font-size="12" font-weight="normal" text-anchor="start" fill="#000" >GD2</text>
<line x1="672.80" y1="327.90" x2="690.80" y2="327.90" stroke="#2a7a06" stroke-width="2.4" />
<circle cx="681.80" cy="327.90" r="2.6" fill="#2a7a06"/>
<text x="699.50" y="332.20" font-size="12" font-weight="normal" text-anchor="start" fill="#000" >GD2-INO</text>
<line x1="807.00" y1="44.60" x2="807.00" y2="208.60" stroke="#000" stroke-width="2" />
<line x1="800.50" y1="207.60" x2="807.00" y2="207.60" stroke="#000" stroke-width="1.8" />
<text x="797.50" y="212.00" font-size="12.1" font-weight="bold" text-anchor="end" fill="#000" >0</text>
<line x1="800.50" y1="153.60" x2="807.00" y2="153.60" stroke="#000" stroke-width="1.8" />
<text x="797.50" y="158.00" font-size="12.1" font-weight="bold" text-anchor="end" fill="#000" >10000</text>
<line x1="800.50" y1="99.60" x2="807.00" y2="99.60" stroke="#000" stroke-width="1.8" />
<text x="797.50" y="104.00" font-size="12.1" font-weight="bold" text-anchor="end" fill="#000" >20000</text>
<line x1="800.50" y1="45.60" x2="807.00" y2="45.60" stroke="#000" stroke-width="1.8" />
<text x="797.50" y="50.00" font-size="12.1" font-weight="bold" text-anchor="end" fill="#000" >30000</text>
<line x1="830.90" y1="207.60" x2="830.90" y2="214.10" stroke="#000" stroke-width="1.8" />
<text x="834.80" y="224.90" font-size="12.1" font-weight="bold" text-anchor="end" fill="#000" transform="rotate(-45 834.80 224.90)">GD2</text>
<line x1="867.50" y1="207.60" x2="867.50" y2="214.10" stroke="#000" stroke-width="1.8" />
<text x="871.10" y="225.30" font-size="12.1" font-weight="bold" text-anchor="end" fill="#000" transform="rotate(-45 871.10 225.30)">GD2-INO</text>
<rect x="820.5" y="189.9" width="22" height="17.7" fill="#fff" stroke="#000" stroke-width="2.3"/>
<rect x="856.6" y="147.4" width="22.4" height="60.2" fill="#fff" stroke="#2a7a06" stroke-width="2.3"/>
<path d="M831 182 V195.2 M825 182 h12 M825 195.2 h12" stroke="#000" stroke-width="1" fill="none"/>
<path d="M867.8 125.8 V165.4 M861.8 125.8 h12 M861.8 165.4 h12" stroke="#2a7a06" stroke-width="1" fill="none"/>
<circle cx="830.90" cy="164.90" r="1.6" fill="#000"/>
<circle cx="828.00" cy="201.00" r="1.6" fill="#000"/>
<circle cx="835.00" cy="201.00" r="1.6" fill="#000"/>
<circle cx="827.00" cy="189.50" r="1.6" fill="#000"/>
<circle cx="835.00" cy="188.50" r="1.6" fill="#000"/>
<circle cx="867.60" cy="68.90" r="1.6" fill="#2a7a06"/>
<circle cx="867.60" cy="150.60" r="1.6" fill="#2a7a06"/>
<circle cx="867.60" cy="163.60" r="1.6" fill="#2a7a06"/>
<circle cx="867.60" cy="166.00" r="1.6" fill="#2a7a06"/>
<circle cx="867.60" cy="178.60" r="1.6" fill="#2a7a06"/>
<line x1="806.00" y1="207.60" x2="892.00" y2="207.60" stroke="#000" stroke-width="2" />
<line x1="827.60" y1="56.70" x2="868.80" y2="56.70" stroke="#000" stroke-width="2.2" />
<path d="M848.40 40.70 L848.40 49.70 M844.50 42.95 L852.30 47.45 M852.30 42.95 L844.50 47.45 " stroke="#000" stroke-width="2" fill="none"/>
<text x="749.2" y="125.9" font-size="12.7" font-weight="bold" text-anchor="middle" transform="rotate(-90 749.2 125.9)">Total CD45<tspan font-size="8" dy="-4">+</tspan><tspan dy="4"> T cells/</tspan><tspan font-weight="normal">μ</tspan>L</text>
</svg>
</body></html>
